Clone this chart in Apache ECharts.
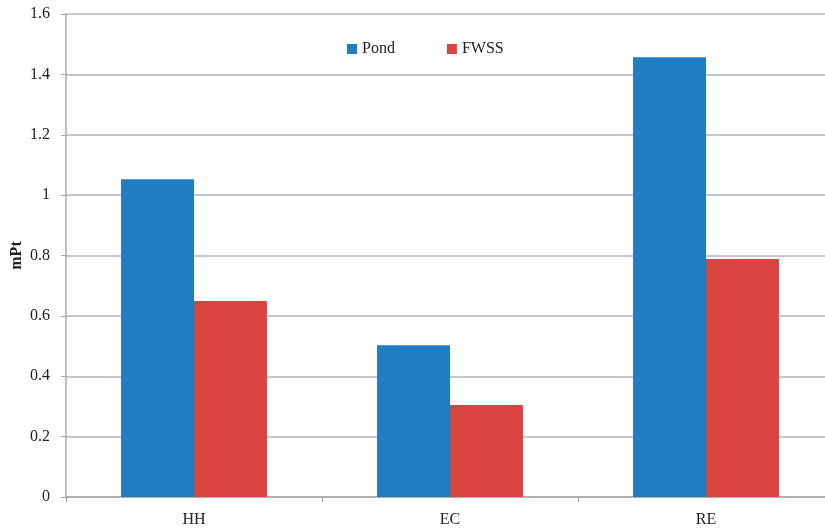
<!DOCTYPE html>
<html>
<head>
<meta charset="utf-8">
<script src="https://cdn.jsdelivr.net/npm/echarts@6/dist/echarts.min.js"></script>
<style>
  html, body { margin: 0; padding: 0; background: #fff; }
  #chart { width: 825px; height: 531px; }
</style>
</head>
<body>
<div id="chart"></div>
<script>
// Impact scores (mPt) per category for the two treatment systems
const categories = ['HH', 'EC', 'RE'];
const pondValues = [1.053, 0.503, 1.457];
const fwssValues = [0.649, 0.305, 0.788];
const yTicks = { min: 0, max: 1.6, interval: 0.2 };

const font = 'Liberation Serif';
const chart = echarts.init(document.getElementById('chart'));
chart.setOption({
  animation: false,
  textStyle: { fontFamily: font },
  // plot area runs slightly past the right edge of the canvas
  grid: { left: 66, right: -9, top: 14, bottom: 34, containLabel: false, outerBoundsMode: 'none' },
  legend: {
    top: 36,
    left: 342,
    itemWidth: 10,
    itemHeight: 10,
    itemGap: 52,
    icon: 'rect',
    textStyle: { fontFamily: font, fontSize: 16, color: '#222' },
    data: ['Pond', 'FWSS']
  },
  xAxis: {
    type: 'category',
    data: categories,
    axisLine: { lineStyle: { color: '#a8a8a8', width: 1.5 } },
    axisTick: { show: true, alignWithLabel: false, length: 5, lineStyle: { color: '#a8a8a8' } },
    axisLabel: { fontFamily: font, fontSize: 16, color: '#222', margin: 15 }
  },
  yAxis: {
    type: 'value',
    min: yTicks.min,
    max: yTicks.max,
    interval: yTicks.interval,
    name: 'mPt',
    nameLocation: 'middle',
    nameGap: 41,
    nameMoveOverlap: false,
    nameTextStyle: { fontFamily: font, fontSize: 16, fontWeight: 'bold', color: '#222' },
    axisLine: { show: true, lineStyle: { color: '#a8a8a8', width: 1.5 } },
    axisTick: { show: true, length: 5, lineStyle: { color: '#a8a8a8' } },
    axisLabel: {
      fontFamily: font, fontSize: 16, color: '#222', margin: 16,
      formatter: v => String(Math.round(v * 10) / 10)
    },
    splitLine: { lineStyle: { color: '#b4b4b4', width: 1.5 } }
  },
  series: [
    {
      name: 'Pond', type: 'bar', data: pondValues,
      barGap: '0%', barCategoryGap: '43%',
      itemStyle: { color: '#1F7EC1' }
    },
    {
      name: 'FWSS', type: 'bar', data: fwssValues,
      itemStyle: { color: '#D94442' }
    }
  ]
});
</script>
</body>
</html>
